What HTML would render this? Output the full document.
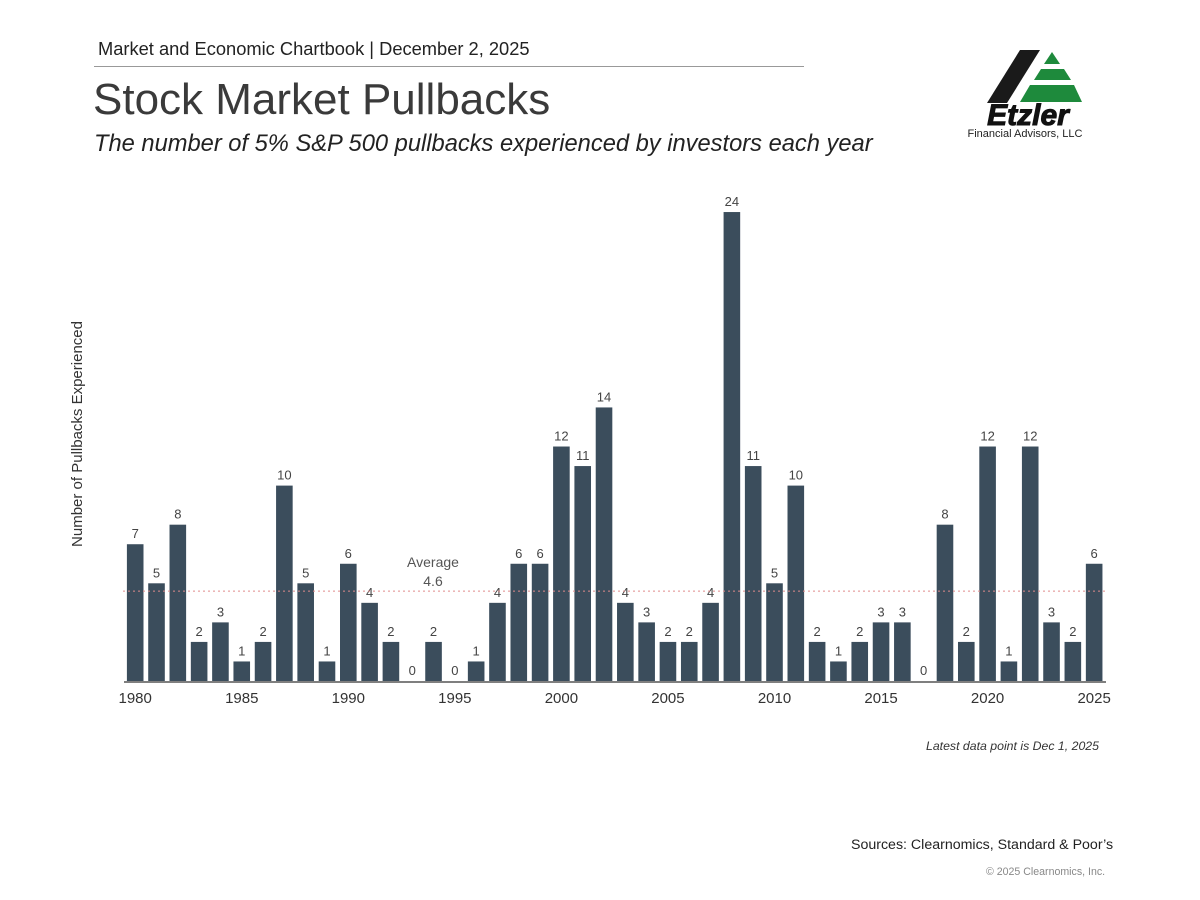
<!DOCTYPE html>
<html><head><meta charset="utf-8"><style>
body{margin:0;background:#fff;font-family:"Liberation Sans",sans-serif;}
#wrap{position:relative;width:1200px;height:900px;overflow:hidden;}
.t{position:absolute;white-space:nowrap;}
</style></head><body>
<div id="wrap">
<div class="t" style="left:98px;top:38px;font-size:18.3px;color:#222">Market and Economic Chartbook | December 2, 2025</div>
<div style="position:absolute;left:94px;top:66px;width:710px;height:1px;background:#999"></div>
<div class="t" style="left:93px;top:75px;font-size:44px;color:#3a3a3a">Stock Market Pullbacks</div>
<div class="t" style="left:94px;top:131px;font-size:23.7px;font-style:italic;color:#222">The number of 5% S&amp;P 500 pullbacks experienced by investors each year</div>
<svg style="position:absolute;left:940px;top:40px" width="160" height="110">
<polygon points="80,10 100,10 67,63 47,63" fill="#1a1a1a"/>
<polygon points="112,12 120,24 104,24" fill="#1e8a3c"/>
<polygon points="101,29 124,29 131,40 94,40" fill="#1e8a3c"/>
<polygon points="90,45 134,45 142,62 80,62" fill="#1e8a3c"/>
<text x="88" y="85" font-size="30" font-weight="bold" font-style="italic" fill="#111" text-anchor="middle" font-family="Liberation Sans, sans-serif" stroke="#111" stroke-width="1">Etzler</text>
<text x="85" y="97" font-size="11" fill="#222" text-anchor="middle">Financial Advisors, LLC</text>
</svg>
<svg id="chart" style="position:absolute;left:0;top:0" width="1200" height="900"></svg>
<div class="t" style="left:926px;top:739px;font-size:12.3px;font-style:italic;color:#333">Latest data point is Dec 1, 2025</div>
<div class="t" style="left:851px;top:837px;font-size:14.2px;color:#222">Sources: Clearnomics, Standard &amp; Poor’s</div>
<div class="t" style="left:986px;top:866px;font-size:10.6px;color:#888">© 2025 Clearnomics, Inc.</div>
</div>
<script>
const years=[1980,1981,1982,1983,1984,1985,1986,1987,1988,1989,1990,1991,1992,1993,1994,1995,1996,1997,1998,1999,2000,2001,2002,2003,2004,2005,2006,2007,2008,2009,2010,2011,2012,2013,2014,2015,2016,2017,2018,2019,2020,2021,2022,2023,2024,2025];
const pullbacks=[7,5,8,2,3,1,2,10,5,1,6,4,2,0,2,0,1,4,6,6,12,11,14,4,3,2,2,4,24,11,5,10,2,1,2,3,3,0,8,2,12,1,12,3,2,6];
const tickYears=[1980,1985,1990,1995,2000,2005,2010,2015,2020,2025];
const average=[4.6];
const svg=document.getElementById('chart');
const NS='http://www.w3.org/2000/svg';
const x0=135.2,step=21.31,base=681,unit=19.54,bw=16.6;
const xs=y=>x0+(y-years[0])*step;
const ys=v=>base-v*unit;
function mk(tag,attrs,txt){const e=document.createElementNS(NS,tag);for(const k in attrs)e.setAttribute(k,attrs[k]);if(txt!=null)e.textContent=txt;svg.appendChild(e);return e;}
years.forEach((yr,i)=>{const v=pullbacks[i];
 const r=mk('rect',{x:xs(yr)-bw/2,y:ys(v),width:bw,height:base-ys(v),fill:'#3b4d5c'});
 
 
 const t=mk('text',{x:xs(yr),y:ys(v)-6,'font-size':13,fill:'#444','text-anchor':'middle','font-family':'Liberation Sans, sans-serif'},String(v));
 
 
});
const al=mk('line',{x1:123,x2:1106,y1:ys(average[0]),y2:ys(average[0]),stroke:'#e08a8a','stroke-dasharray':'2,3','stroke-width':1});


const a1=mk('text',{x:433,y:567,'font-size':14,fill:'#555','text-anchor':'middle','font-family':'Liberation Sans, sans-serif'},'Average');


const a2=mk('text',{x:433,y:586,'font-size':14,fill:'#555','text-anchor':'middle','font-family':'Liberation Sans, sans-serif'},String(average[0]));


const ax=mk('line',{x1:124,x2:1106,y1:682,y2:682,stroke:'#555','stroke-width':1.5});


tickYears.forEach(yr=>{const t=mk('text',{x:xs(yr),y:703,'font-size':15,fill:'#333','text-anchor':'middle','font-family':'Liberation Sans, sans-serif'},String(yr));
 
 });
const yt=mk('text',{x:0,y:0,'font-size':15,fill:'#333','text-anchor':'middle',transform:'translate(82,434) rotate(-90)','font-family':'Liberation Sans, sans-serif'},'Number of Pullbacks Experienced');


</script>
</body></html>
